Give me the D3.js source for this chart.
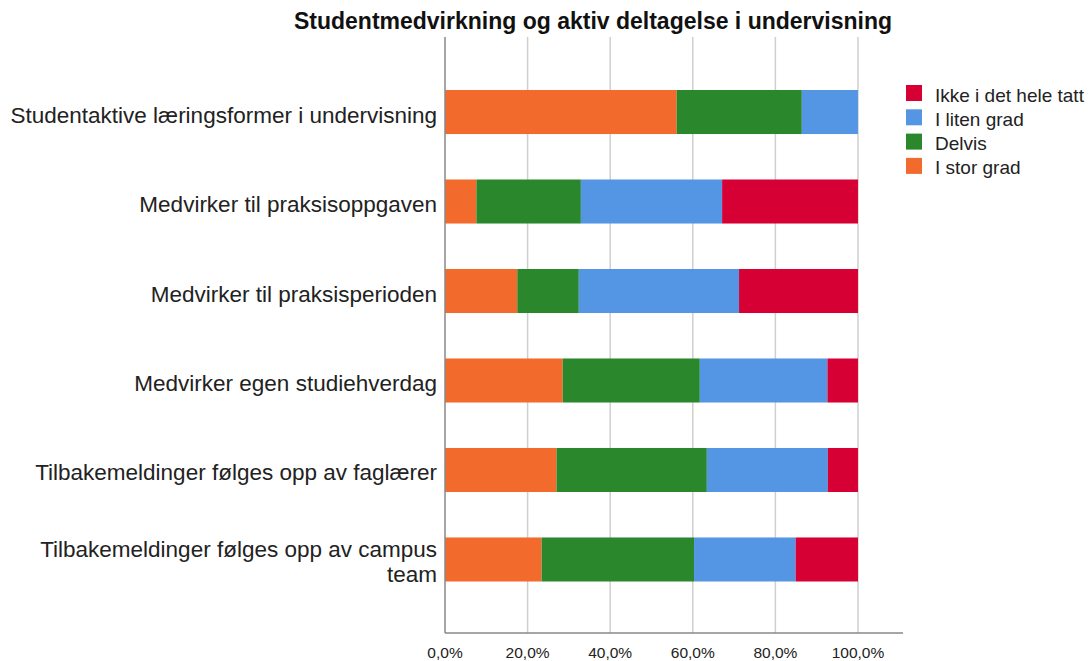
<!DOCTYPE html>
<html><head><meta charset="utf-8">
<script src="https://cdn.jsdelivr.net/npm/d3@7"></script>
<style>body{margin:0;background:#fff}svg{display:block}</style>
</head><body>
<svg id="c" width="1089" height="661"></svg>
<script>
const title = "Studentmedvirkning og aktiv deltagelse i undervisning";
const categories = [
  ["Studentaktive læringsformer i undervisning"],
  ["Medvirker til praksisoppgaven"],
  ["Medvirker til praksisperioden"],
  ["Medvirker egen studiehverdag"],
  ["Tilbakemeldinger følges opp av faglærer"],
  ["Tilbakemeldinger følges opp av campus", "team"]
];
const seriesNames = ["I stor grad", "Delvis", "I liten grad", "Ikke i det hele tatt"];
const iStorGrad   = [56.1, 7.6, 17.5, 28.5, 27.0, 23.4];
const delvis      = [30.3, 25.3, 14.9, 33.2, 36.4, 36.9];
const iLitenGrad  = [13.6, 34.2, 38.8, 30.9, 29.3, 24.6];
const ikkeIDet    = [0.0, 32.9, 28.8, 7.4, 7.3, 15.1];
const colors = ["#f26a2c", "#2b872c", "#5596e4", "#d60034"];
const xTicks = [0, 20, 40, 60, 80, 100];
const legendOrder = ["Ikke i det hele tatt", "I liten grad", "Delvis", "I stor grad"];

const seriesValues = [iStorGrad, delvis, iLitenGrad, ikkeIDet];
const svg = d3.select("#c");
const font = "Arial, 'Liberation Sans', sans-serif";

const x = d3.scaleLinear().domain([0, 110.9]).range([445, 903]);
const y = d3.scaleBand().domain(d3.range(categories.length)).range([90, 581.5]).paddingInner(0.508).paddingOuter(0);

// gridlines
svg.append("g").selectAll("line").data(xTicks.slice(1)).join("line")
  .attr("x1", d => x(d)).attr("x2", d => x(d)).attr("y1", 37).attr("y2", 633)
  .attr("stroke", "#cfcfcf").attr("stroke-width", 1.5);

// stacked data
const rows = categories.map((c, i) => {
  const o = {i};
  seriesNames.forEach((s, k) => o[s] = seriesValues[k][i]);
  return o;
});
const stack = d3.stack().keys(seriesNames)(rows);
const color = d3.scaleOrdinal().domain(seriesNames).range(colors);

svg.append("g").selectAll("g").data(stack).join("g")
  .attr("fill", d => color(d.key))
  .selectAll("rect").data(d => d).join("rect")
  .attr("x", d => x(d[0])).attr("width", d => Math.max(0, x(d[1]) - x(d[0])))
  .attr("y", (d, j) => y(j)).attr("height", y.bandwidth());

// axes lines
svg.append("line").attr("x1", 445).attr("x2", 445).attr("y1", 37).attr("y2", 633)
  .attr("stroke", "#888").attr("stroke-width", 1.5);
svg.append("line").attr("x1", 445).attr("x2", 903).attr("y1", 633).attr("y2", 633)
  .attr("stroke", "#888").attr("stroke-width", 1.5);

// x tick labels
svg.append("g").selectAll("text").data(xTicks).join("text")
  .attr("x", d => x(d)).attr("y", 658).attr("text-anchor", "middle")
  .attr("font-family", font).attr("font-size", 15.5).attr("fill", "#222")
  .text(d => d3.format(".1f")(d).replace(".", ",") + "%");

// y labels
const yl = svg.append("g").selectAll("text").data(categories).join("text")
  .attr("text-anchor", "end").attr("font-family", font).attr("font-size", 22.5).attr("fill", "#222");
yl.each(function(lines, i) {
  const t = d3.select(this);
  const cy = y(i) + y.bandwidth() / 2;
  const lh = 25;
  const y0 = cy - (lines.length - 1) * lh / 2 + 10.5;
  lines.forEach((l, k) => t.append("tspan").attr("x", 437).attr("y", y0 + k * lh).text(l));
});

// title
svg.append("text").attr("x", 593).attr("y", 29).attr("text-anchor", "middle")
  .attr("font-family", font).attr("font-weight", "bold").attr("font-size", 23).attr("fill", "#111")
  .text(title);

// legend
const lg = svg.append("g").selectAll("g").data(legendOrder).join("g")
  .attr("transform", (d, i) => `translate(906,${85 + i * 24.3})`);
lg.append("rect").attr("width", 16).attr("height", 16).attr("fill", d => color(d));
lg.append("text").attr("x", 29).attr("y", 16.5).attr("font-family", font).attr("font-size", 19)
  .attr("fill", "#222").text(d => d);
</script>
</body></html>
